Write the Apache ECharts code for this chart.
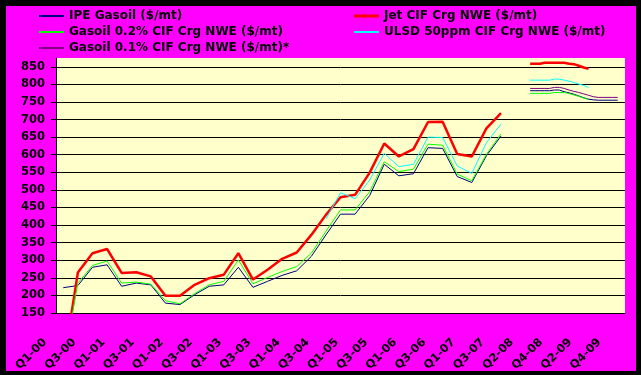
<!DOCTYPE html>
<html>
<head>
<meta charset="utf-8">
<script src="https://cdn.jsdelivr.net/npm/echarts@6/dist/echarts.min.js"></script>
<style>
  html, body { margin: 0; padding: 0; background: #000; }
  #bg { position: absolute; left: 6px; top: 6px; width: 630px; height: 365px; background: #FF00FF; }
  #chart { position: absolute; left: 0; top: 0; width: 641px; height: 375px; }
</style>
</head>
<body>
<div id="bg"></div>
<div id="chart"></div>
<script>
// ---- data ----
const tickLabels = ['Q1-00','Q3-00','Q1-01','Q3-01','Q1-02','Q3-02','Q1-03','Q3-03','Q1-04','Q3-04',
  'Q1-05','Q3-05','Q1-06','Q3-06','Q1-07','Q3-07','Q2-08','Q4-08','Q2-09','Q4-09'];
const monthNames = ['Jan','Feb','Mar','Apr','May','Jun','Jul','Aug','Sep','Oct','Nov','Dec'];
const seriesNames = ['IPE Gasoil ($/mt)','Jet CIF Crg NWE ($/mt)','Gasoil 0.2% CIF Crg NWE ($/mt)',
  'ULSD 50ppm CIF Crg NWE ($/mt)','Gasoil 0.1% CIF Crg NWE ($/mt)*'];

// historical quarterly values (Q1-00 .. Q3-07), plotted at the middle month of each quarter
const ipeHist   = [222,228,280,287,226,235,230,178,174,202,226,230,280,223,240,257,270,311,372,431,431,484,573,540,546,620,618,538,521,597,653];
const jetHist   = [0,265,320,332,264,266,254,199,199,230,249,259,320,245,273,304,322,372,429,479,486,549,632,595,616,693,694,602,595,675,718];
const gas02Hist = [0,235,285,298,235,238,232,185,176,205,230,240,301,233,251,268,282,320,382,443,443,495,580,552,559,630,627,545,526,601,659];
const ulsdHist  = [null,null,null,null,null,null,null,null,null,null,null,null,null,null,null,null,null,null,417,492,475,528,604,566,573,650,649,568,547,634,687];

// monthly forward values starting at the month after Q2-08 label
const ipeFwd   = [782,782,782,782,782,784,784,779,776,772,767,762,758,756,755,755,755,755,755];
const jetFwd   = [858.5,858.5,858.5,861.5,861.5,861.5,861.5,861.5,858.5,857.5,853,848,844];
const gas02Fwd = [774.5,774.5,774.5,774.5,774.5,777,777,777,774,770,766,761,757];
const ulsdFwd  = [812,812,812,812,812,815,815,812,809,805,801,797,791];
const gas01Fwd = [788.5,788.5,788.5,788.5,788.5,791.5,791.5,788.5,784,780,777,773,769,765,763,763,763,763,763];

// ---- build month categories (Q1-08 quarter not present on the axis) ----
const N = 117;
const months = [];
for (let i = 0; i < N; i++) {
  const m = i < 96 ? i : i + 3;
  months.push(monthNames[m % 12] + '-' + String(Math.floor(m / 12)).padStart(2, '0'));
}
const HIST_OFFSET = 1, HIST_STEP = 3, FWD_OFFSET = 97;
function histSeries(arr) {
  const d = new Array(N).fill(null);
  arr.forEach((v, q) => { d[HIST_OFFSET + q * HIST_STEP] = v; });
  return d;
}
function fwdSeries(arr) {
  const d = new Array(N).fill(null);
  arr.forEach((v, k) => { d[FWD_OFFSET + k] = v; });
  return d;
}

const colors = ['#000080', '#FF0000', '#00FF00', '#00FFFF', '#800080'];
const widths = [1, 2.5, 1, 1, 1];
const histData = [ipeHist, jetHist, gas02Hist, ulsdHist, null];
const fwdData = [ipeFwd, jetFwd, gas02Fwd, ulsdFwd, gas01Fwd];

const series = [];
for (let s = 0; s < 5; s++) {
  const base = {
    name: seriesNames[s], type: 'line', symbol: 'none', showSymbol: false,
    connectNulls: true, animation: false,
    itemStyle: { color: colors[s] },
    lineStyle: { color: colors[s], width: widths[s] }
  };
  if (histData[s]) series.push(Object.assign({}, base, { data: histSeries(histData[s]) }));
  series.push(Object.assign({}, base, { data: fwdSeries(fwdData[s]) }));
}

const font = { fontFamily: 'DejaVu Sans', fontWeight: 'bold', fontSize: 12, color: '#000' };
const legendPos = [[39, 10], [354, 10], [39, 26], [354, 26], [39, 42]];
const legends = seriesNames.map((n, s) => ({
  data: [n], left: legendPos[s][0], top: legendPos[s][1], padding: 0,
  icon: 'rect', itemWidth: 25, itemHeight: s === 1 ? 3 : 2,
  selectedMode: false, textStyle: font
}));

const chart = echarts.init(document.getElementById('chart'), null, { renderer: 'canvas' });
chart.setOption({
  animation: false,
  legend: legends,
  grid: { left: 56, right: 16, top: 58, bottom: 62, show: true, backgroundColor: '#FFFFCC', borderWidth: 0 },
  xAxis: {
    type: 'category', data: months, boundaryGap: true,
    axisLine: { lineStyle: { color: '#000', width: 1 } },
    axisTick: { interval: 5, length: 4, lineStyle: { color: '#000' } },
    axisLabel: {
      interval: 5, rotate: 45, margin: 14, padding: [0, 19, 0, 0],
      fontFamily: 'DejaVu Sans', fontWeight: 'bold', fontSize: 11.5, color: '#000',
      formatter: (v, idx) => tickLabels[Math.floor(idx / 6)]
    },
    splitLine: { show: false }
  },
  yAxis: {
    type: 'value', min: 150, max: 875, interval: 50,
    axisLine: { show: true, lineStyle: { color: '#000', width: 1 } },
    axisTick: { show: true, length: 5, lineStyle: { color: '#000' } },
    axisLabel: { margin: 11, padding: [5, 0, 0, 0], showMaxLabel: false, fontFamily: 'DejaVu Sans', fontWeight: 'bold', fontSize: 11.5, color: '#000' },
    splitLine: { show: true, showMaxLine: false, lineStyle: { color: '#000', width: 1 } }
  },
  series: series
});
</script>
</body>
</html>
